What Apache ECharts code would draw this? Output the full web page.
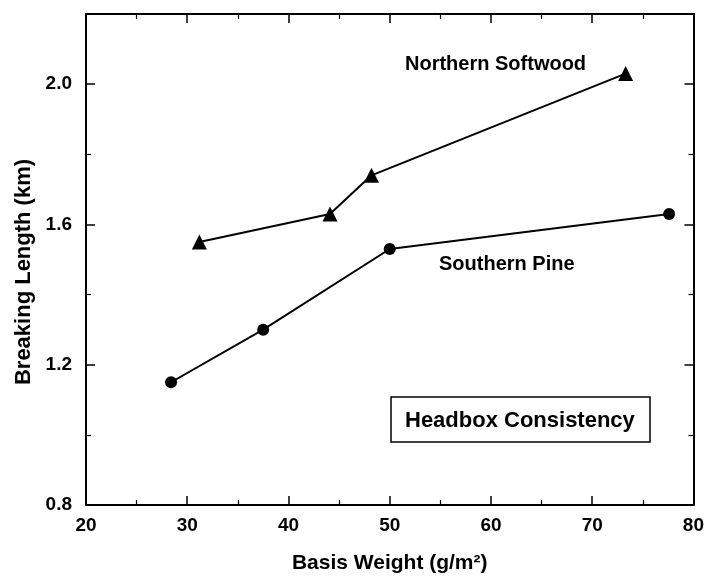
<!DOCTYPE html>
<html>
<head>
<meta charset="utf-8">
<script src="https://cdn.jsdelivr.net/npm/echarts@6/dist/echarts.min.js"></script>
<style>
  html, body { margin: 0; padding: 0; background: #fff; }
  #chart { width: 707px; height: 579px; }
</style>
</head>
<body>
<div id="chart"></div>
<script>
// data
var northernWeight = [31.2, 44.1, 48.2, 73.3];
var northernLength = [1.55, 1.63, 1.74, 2.03];
var southernWeight = [28.4, 37.5, 50.0, 77.6];
var southernLength = [1.15, 1.30, 1.53, 1.63];

var xTicks = [20, 30, 40, 50, 60, 70, 80];
var yTicks = [0.8, 1.2, 1.6, 2.0];

function pairs(xs, ys) {
  return xs.map(function (x, i) { return [x, ys[i]]; });
}

var font = "'Liberation Sans', Arial, sans-serif";

var chart = echarts.init(document.getElementById("chart"));

// shared axis look: black frame, inside ticks, minor ticks halfway
function axisBase(show) {
  return {
    axisLine: { show: true, onZero: false, lineStyle: { color: "#000", width: 2 } },
    axisTick: { show: true, inside: true, length: 9, lineStyle: { color: "#000", width: 1.5 } },
    minorTick: { show: true, splitNumber: 2, length: 5, lineStyle: { color: "#000", width: 1.2 } },
    splitLine: { show: false },
    axisLabel: {
      show: show,
      color: "#000",
      fontFamily: font,
      fontWeight: "bold",
      fontSize: 19
    }
  };
}

var xBottom = Object.assign(axisBase(true), {
  type: "value", position: "bottom", min: xTicks[0], max: xTicks[xTicks.length - 1], interval: 10,
  name: "Basis Weight (g/m\u00B2)", nameLocation: "middle", nameGap: 48,
  nameTextStyle: { color: "#000", fontFamily: font, fontWeight: "bold", fontSize: 21 }
});
xBottom.axisLabel.margin = 11;
var xTop = Object.assign(axisBase(false), {
  type: "value", position: "top", min: xTicks[0], max: xTicks[xTicks.length - 1], interval: 10
});

var yLeft = Object.assign(axisBase(true), {
  type: "value", position: "left", min: yTicks[0], max: 2.2, interval: 0.4
});
yLeft.axisLabel.showMaxLabel = false;
yLeft.axisLabel.margin = 14;
yLeft.axisLabel.formatter = function (v) { return v.toFixed(1); };
var yRight = Object.assign(axisBase(false), {
  type: "value", position: "right", min: yTicks[0], max: 2.2, interval: 0.4
});

var option = {
  animation: false,
  backgroundColor: "#fff",
  grid: { left: 86, right: 13, top: 14, bottom: 73 },
  xAxis: [xBottom, xTop],
  yAxis: [yLeft, yRight],
  series: [
    {
      name: "Northern Softwood",
      type: "line",
      xAxisIndex: 0,
      yAxisIndex: 0,
      symbol: "triangle",
      symbolSize: 15,
      itemStyle: { color: "#000" },
      lineStyle: { color: "#000", width: 2 },
      data: pairs(northernWeight, northernLength)
    },
    {
      name: "Southern Pine",
      type: "line",
      xAxisIndex: 0,
      yAxisIndex: 0,
      symbol: "circle",
      symbolSize: 12,
      itemStyle: { color: "#000" },
      lineStyle: { color: "#000", width: 2 },
      data: pairs(southernWeight, southernLength)
    }
  ],
  graphic: [
    {
      type: "text", x: 24, y: 272, rotation: Math.PI / 2,
      style: {
        text: "Breaking Length (km)", fill: "#000", font: "bold 22px " + font,
        textAlign: "center", textVerticalAlign: "middle"
      }
    },
    {
      type: "text", x: 405, y: 64,
      style: { text: "Northern Softwood", fill: "#000", font: "bold 20px " + font, textVerticalAlign: "middle" }
    },
    {
      type: "text", x: 439, y: 264,
      style: { text: "Southern Pine", fill: "#000", font: "bold 20px " + font, textVerticalAlign: "middle" }
    },
    {
      type: "rect",
      shape: { x: 391, y: 397, width: 259, height: 45 },
      style: { fill: "#fff", stroke: "#000", lineWidth: 1.5 }
    },
    {
      type: "text", x: 405, y: 421,
      style: { text: "Headbox Consistency", fill: "#000", font: "bold 22px " + font, textVerticalAlign: "middle" }
    }
  ]
};

chart.setOption(option);
</script>
</body>
</html>
